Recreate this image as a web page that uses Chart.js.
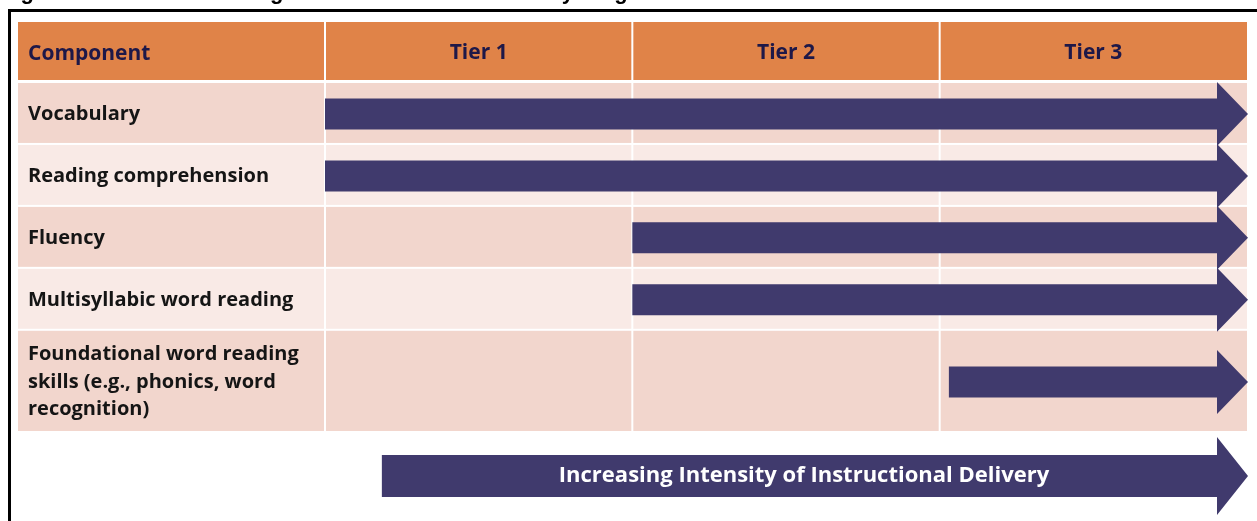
<!DOCTYPE html>
<html>
<head>
<meta charset="utf-8">
<script src="https://cdn.jsdelivr.net/npm/chart.js@4.4.1/dist/chart.umd.min.js"></script>
<style>
  html, body { margin: 0; padding: 0; background: #fff; }
</style>
</head>
<body>
<canvas id="tierChart" width="1257" height="521"></canvas>
<script>
"use strict";

// data (x unit = one tier column)
var components = [
  "Vocabulary",
  "Reading comprehension",
  "Fluency",
  "Multisyllabic word reading",
  ["Foundational word reading", "skills (e.g., phonics, word", "recognition)"]
];
var tierLabels = ["Tier 1", "Tier 2", "Tier 3"];
var startTier = [0, 0, 1, 1, 2.03];
var endTier = [3, 3, 3, 3, 3];
var deliveryRange = [0.185, 3];
var deliveryText = "Increasing Intensity of Instructional Delivery";
var headerText = "Component";
var titleText = "Figure 4. Focus of Reading Instruction Across Tiers by Stage";

// relative row heights (last row holds three lines of text)
var rowSpan = [1, 1, 1, 1, 1.65];

var rowCenters = [];
var acc = 0;
rowSpan.forEach(function (h) {
  rowCenters.push(acc + h / 2);
  acc += h;
});
var rowTotal = acc;

var ARROW = "#403A6D";
var HEADER = "#E08348";
var ROW_DARK = "#F2D6CD";
var ROW_LIGHT = "#F9EAE6";
var LABEL_FONT = "'Open Sans', Lato, sans-serif";

function drawArrow(ctx, x0, x1, yc, bodyH, headH, headL) {
  var neck = x1 - headL;
  ctx.beginPath();
  ctx.moveTo(x0, yc - bodyH / 2);
  ctx.lineTo(neck, yc - bodyH / 2);
  ctx.lineTo(neck, yc - headH / 2);
  ctx.lineTo(x1, yc);
  ctx.lineTo(neck, yc + headH / 2);
  ctx.lineTo(neck, yc + bodyH / 2);
  ctx.lineTo(x0, yc + bodyH / 2);
  ctx.closePath();
  ctx.fill();
}

var tablePlugin = {
  id: "tablePlugin",
  beforeDraw: function (chart) {
    var ctx = chart.ctx;
    var area = chart.chartArea;
    var xs = chart.scales.x;
    var ys = chart.scales.y;
    var left = 18;
    ctx.save();
    ctx.fillStyle = "#fff";
    ctx.fillRect(0, 0, chart.width, chart.height);

    // clipped caption + frame
    ctx.fillStyle = "#000";
    ctx.font = "bold 22px 'Liberation Sans', Arial, sans-serif";
    ctx.textBaseline = "alphabetic";
    ctx.textAlign = "left";
    ctx.fillText(titleText, 1, -1);
    ctx.fillRect(8, 9, chart.width - 8, 3);
    ctx.fillRect(8, 9, 3, chart.height - 9);

    // header band
    ctx.fillStyle = HEADER;
    ctx.fillRect(left, 22, area.right - left, area.top - 3 - 22);
    ctx.fillStyle = "#1E1848";
    ctx.font = "bold 21px " + LABEL_FONT;
    ctx.textBaseline = "middle";
    ctx.fillText(headerText, 28, (22 + area.top - 3) / 2 + 3);

    // row bands
    var edge = 0;
    rowSpan.forEach(function (h, i) {
      var top = ys.getPixelForValue(edge);
      var bot = ys.getPixelForValue(edge + h);
      ctx.fillStyle = i % 2 === 0 ? ROW_DARK : ROW_LIGHT;
      ctx.fillRect(left, top, area.right - left, bot - top - 2);
      edge += h;
    });

    // column separators
    ctx.fillStyle = "#fff";
    [0, 1, 2].forEach(function (t) {
      var px = xs.getPixelForValue(t);
      ctx.fillRect(px - 1, 22, 2, area.bottom - 22);
    });
    ctx.restore();
  },
  afterDatasetsDraw: function (chart) {
    var ctx = chart.ctx;
    var xs = chart.scales.x;
    var area = chart.chartArea;
    ctx.save();
    ctx.fillStyle = ARROW;
    chart.getDatasetMeta(0).data.forEach(function (el) {
      var p = el.getProps(["x", "y", "base"], true);
      drawArrow(ctx, p.base, p.x + 1, p.y, 31, 64, 31);
    });

    // bottom delivery arrow
    var bx0 = xs.getPixelForValue(deliveryRange[0]);
    var bx1 = xs.getPixelForValue(deliveryRange[1]) + 1;
    var by = area.bottom + 43;
    drawArrow(ctx, bx0, bx1, by, 42, 78, 31);
    ctx.fillStyle = "#fff";
    ctx.font = "bold 22px " + LABEL_FONT;
    ctx.textAlign = "center";
    ctx.textBaseline = "middle";
    ctx.fillText(deliveryText, 804, by);
    ctx.restore();
  }
};

new Chart(document.getElementById("tierChart"), {
  type: "bar",
  data: {
    datasets: [{
      data: components.map(function (c, i) {
        return { y: rowCenters[i], x: [startTier[i], endTier[i]] };
      }),
      barThickness: 31,
      backgroundColor: "rgba(0,0,0,0)",
      borderWidth: 0
    }]
  },
  options: {
    indexAxis: "y",
    responsive: false,
    animation: false,
    events: [],
    layout: { padding: { top: 22, left: 28, right: 10, bottom: 88 } },
    plugins: {
      legend: { display: false },
      tooltip: { enabled: false }
    },
    scales: {
      x: {
        type: "linear",
        position: "top",
        min: 0,
        max: 3,
        afterBuildTicks: function (s) {
          s.ticks = tierLabels.map(function (t, i) { return { value: i + 0.5 }; });
        },
        afterFit: function (s) {
          s.height = 61;
          s.paddingLeft = 0;
          s.paddingRight = 0;
        },
        ticks: {
          autoSkip: false,
          maxRotation: 0,
          padding: 17,
          color: "#1E1848",
          font: { family: LABEL_FONT, size: 21, weight: "bold" },
          callback: function (v, i) { return tierLabels[i]; }
        },
        grid: { display: false, drawTicks: false },
        border: { display: false }
      },
      y: {
        type: "linear",
        offset: false,
        reverse: true,
        min: 0,
        max: rowTotal,
        afterBuildTicks: function (s) {
          s.ticks = rowCenters.map(function (v) { return { value: v }; });
        },
        afterFit: function (s) {
          s.width = 297;
          s.paddingTop = 0;
          s.paddingBottom = 0;
        },
        ticks: {
          autoSkip: false,
          crossAlign: "far",
          padding: 0,
          color: "#151515",
          font: { family: LABEL_FONT, size: 20, weight: "bold", lineHeight: 1.38 },
          callback: function (v, i) { return components[i]; }
        },
        grid: { display: false, drawTicks: false },
        border: { display: false }
      }
    }
  },
  plugins: [tablePlugin]
});
</script>
</body>
</html>
